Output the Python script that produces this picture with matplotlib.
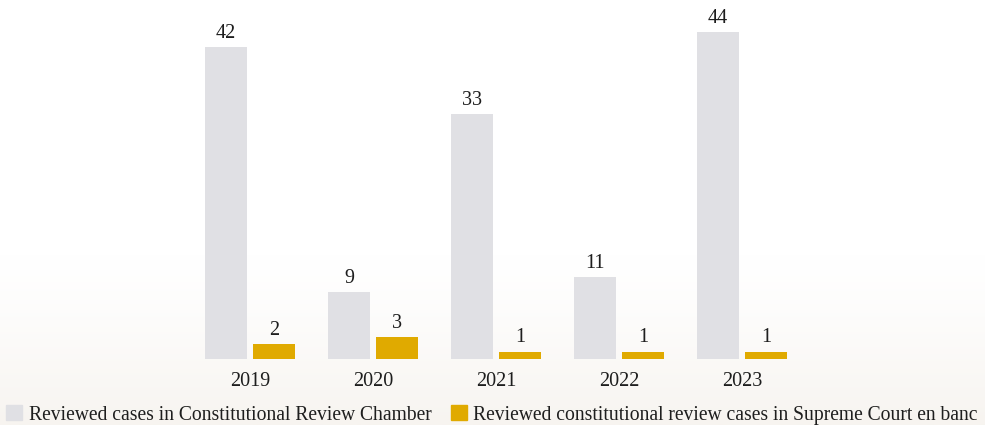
import numpy as np
import matplotlib
matplotlib.use("Agg")
import matplotlib.pyplot as plt
from matplotlib.patches import Patch

years = ["2019", "2020", "2021", "2022", "2023"]
chamber = [42, 9, 33, 11, 44]
en_banc = [2, 3, 1, 1, 1]
series_names = ["Reviewed cases in Constitutional Review Chamber",
                "Reviewed constitutional review cases in Supreme Court en banc"]
gray = "#e0e0e4"
gold = "#e0aa00"
ink = "#1e1e1e"

plt.rcParams['font.family'] = ['Liberation Serif', 'DejaVu Serif']

fig = plt.figure(figsize=(9.85, 4.25), dpi=100)

# Soft warm gradient near the bottom edge.
bg = fig.add_axes([0, 0, 1, 1], zorder=0)
t = np.linspace(0, 1, 256)
fade = np.clip((t - 0.6) / 0.4, 0, 1) ** 1.3
top = np.array([1.0, 1.0, 1.0])
bottom = np.array([247, 244, 240]) / 255
grad = top[None, :] * (1 - fade[:, None]) + bottom[None, :] * fade[:, None]
bg.imshow(grad[:, None, :], aspect="auto", extent=[0, 1, 0, 1], origin="upper")
bg.set_axis_off()

ax = fig.add_axes([0, 66 / 425, 1, 359 / 425], zorder=1)
ax.set_facecolor("none")

x = np.arange(len(years))
w = 0.341
off = 0.195
b1 = ax.bar(x - off, chamber, w, color=gray)
b2 = ax.bar(x + off, en_banc, w, color=gold)
for bars in (b1, b2):
    ax.bar_label(bars, padding=3, fontsize=14.5, color=ink)

ax.set_xlim(-250 / 123, 735 / 123)
ax.set_ylim(0, 48.3)
ax.set_xticks(x)
ax.set_xticklabels(years, fontsize=14.5, color=ink)
ax.tick_params(axis='x', length=0, pad=9)
ax.set_yticks([])
for s in ax.spines.values():
    s.set_visible(False)

handles = [Patch(color=gray), Patch(color=gold)]
fig.legend(handles, series_names, loc="center", bbox_to_anchor=(0.4995, 10 / 425),
           ncol=2, frameon=False, fontsize=14.1, handlelength=0.8,
           handleheight=0.8, handletextpad=0.35, columnspacing=1.0,
           labelcolor=ink, borderaxespad=0)

fig.savefig("out.png", dpi=100)
